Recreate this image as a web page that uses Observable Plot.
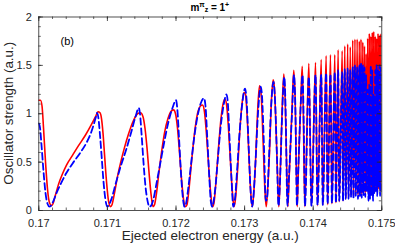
<!DOCTYPE html>
<html><head><meta charset="utf-8">
<script src="https://cdn.jsdelivr.net/npm/d3@7"></script>
<script src="https://cdn.jsdelivr.net/npm/@observablehq/plot@0.6"></script>
<style>
html,body{margin:0;padding:0;background:#fff;}
#chart svg{display:block;}
</style>
</head><body><div id="chart"></div>
<script>
// ---- data ----
const panelLabel = "(b)";
const xTitle = "Ejected electron energy (a.u.)";
const yTitle = "Oscillator strength (a.u.)";
const xMajor = [0.170, 0.171, 0.172, 0.173, 0.174, 0.175];
const xLabels = ["0.17", "0.171", "0.172", "0.173", "0.174", "0.175"];
const yMajor = [0, 0.5, 1, 1.5, 2];
const yLabels = ["0", "0.5", "1", "1.5", "2"];

// red solid curve
const redE = [
0.170000,0.170025,0.170047,0.170069,0.170098,0.170127,0.170156,0.170185,0.170207,
0.170243,0.170287,0.170346,0.170404,0.170491,0.170579,0.170681,0.170768,0.170827,0.170863,0.170892,0.170914,0.170936,0.170958,0.170987,0.171016,0.171045,0.171067,
0.171103,0.171147,0.171191,0.171249,0.171308,0.171380,0.171439,0.171482,0.171519,0.171548,0.171577,0.171606,0.171636,0.171665,0.171687,
0.171716,0.171752,0.171789,0.171832,0.171883,0.171934,0.171964,0.171993,0.172022,0.172051,0.172080,0.172109,0.172138,0.172160,
0.172189,0.172226,0.172270,0.172313,0.172357,0.172386,0.172415,0.172445,0.172474,0.172503,0.172532,0.172554,
0.172583,0.172620,0.172656,0.172692,0.172714,0.172736,0.172765,0.172794,0.172824,0.172845,0.172867,
0.172896,0.172933,0.172962,0.172991,0.173013,0.173035,0.173064,0.173093,0.173112,0.173130,
0.173159,0.173188,0.173217,0.173239,0.173268,0.173297,0.173315,0.173334,
0.173363,0.173392,0.173417,0.173436,0.173465,0.173487,0.173499,0.173516,
0.173545,0.173571,0.173589,0.173615,0.173630,0.173647,
0.173691,0.173717,0.173735,0.173767,0.173781,
0.173822,0.173840,0.173856,0.173878,
0.173936,0.173975,0.174034,0.174063,0.174117,0.174140,0.174189,0.174210,0.174252,0.174273,
0.174315,0.174331,0.174364,0.174380,0.174423,0.174434,0.174461,0.174474,0.174503,0.174515,
0.174541,0.174552,0.174577,0.174587,0.174609,0.174621,0.174641,0.174653,0.174672,0.174682,
0.174697,0.174708,0.174723,0.174733,0.174748,0.174759,0.174771,0.174783,0.174794,0.174806,
0.174818,0.174828,0.174840,0.174850,0.174861,0.174872,0.174882,0.174894,0.174904,0.174914,
0.174924,0.174934,0.174945,0.174955,0.174965,0.174975,0.174985,0.174996];
const redF = [
1.14,1.14,1.08,0.85,0.50,0.22,0.08,0.05,0.07,
0.16,0.27,0.38,0.47,0.57,0.67,0.78,0.89,0.97,1.02,1.01,0.95,0.80,0.58,0.30,0.10,0.04,0.06,
0.18,0.35,0.49,0.65,0.79,0.93,1.00,1.01,0.97,0.85,0.65,0.40,0.17,0.04,0.06,
0.18,0.40,0.60,0.80,0.95,1.03,1.04,1.00,0.85,0.60,0.33,0.12,0.04,0.06,
0.22,0.50,0.80,1.00,1.08,1.09,1.02,0.78,0.48,0.20,0.04,0.08,
0.30,0.65,0.95,1.12,1.15,1.10,0.85,0.50,0.17,0.04,0.12,
0.40,0.85,1.10,1.22,1.20,1.00,0.55,0.15,0.04,0.15,
0.50,1.00,1.29,1.22,0.75,0.20,0.04,0.20,
0.60,1.15,1.35,1.25,0.70,0.20,0.04,0.30,
1.00,1.41,1.20,0.40,0.04,0.30,
1.05,1.45,1.20,0.04,0.35,
1.20,1.49,1.00,0.04,
1.52,0.05,1.53,0.05,1.56,0.06,1.60,0.06,1.61,0.07,
1.61,0.08,1.66,0.09,1.65,0.10,1.70,0.12,1.72,0.14,
1.69,0.16,1.76,0.15,1.77,0.18,1.77,0.16,1.75,0.18,
1.77,0.17,1.74,0.19,1.70,0.18,1.62,0.20,1.78,0.17,
1.83,0.19,1.80,0.18,1.84,0.20,1.85,0.19,1.80,0.21,
1.78,0.20,1.83,0.22,1.81,0.20,1.82,0.22];

// blue dashed curve
const blueE = [
0.170000,0.170017,0.170039,0.170069,0.170098,0.170127,0.170156,0.170178,
0.170214,0.170258,0.170316,0.170404,0.170506,0.170608,0.170695,0.170754,0.170797,0.170834,0.170851,0.170870,0.170892,0.170914,0.170943,0.170972,0.171001,0.171023,
0.171060,0.171118,0.171191,0.171278,0.171351,0.171410,0.171458,0.171475,0.171497,0.171526,0.171555,0.171585,0.171614,0.171638,
0.171672,0.171716,0.171774,0.171832,0.171891,0.171949,0.172000,0.172019,0.172044,0.172073,0.172102,0.172124,0.172146,
0.172182,0.172226,0.172270,0.172313,0.172357,0.172408,0.172430,0.172456,0.172485,0.172510,0.172529,0.172547,
0.172576,0.172612,0.172649,0.172692,0.172736,0.172755,0.172780,0.172809,0.172835,0.172860,
0.172889,0.172926,0.172962,0.173006,0.173028,0.173057,0.173086,0.173111,0.173130,
0.173159,0.173195,0.173236,0.173254,0.173283,0.173309,0.173327,
0.173356,0.173385,0.173421,0.173443,0.173472,0.173494,0.173516,
0.173545,0.173579,0.173596,0.173625,0.173647,
0.173691,0.173720,0.173739,0.173764,0.173781,
0.173822,0.173844,0.173862,0.173880,
0.173936,0.173975,0.174034,0.174063,0.174117,0.174140,0.174189,0.174210,0.174252,0.174273,
0.174315,0.174331,0.174364,0.174380,0.174423,0.174434,0.174461,0.174474,0.174503,0.174515,
0.174541,0.174552,0.174577,0.174587,0.174609,0.174621,0.174641,0.174653,0.174672,0.174682,
0.174697,0.174708,0.174723,0.174733,0.174748,0.174759,0.174771,0.174783,0.174794,0.174806,
0.174818,0.174828,0.174840,0.174850,0.174861,0.174872,0.174882,0.174894,0.174904,0.174914,
0.174924,0.174934,0.174945,0.174955,0.174965,0.174975,0.174985,0.174996];
const blueF = [
0.90,0.86,0.68,0.40,0.18,0.07,0.04,0.05,
0.10,0.18,0.27,0.39,0.50,0.60,0.70,0.79,0.88,0.97,1.01,0.95,0.78,0.58,0.30,0.11,0.04,0.06,
0.12,0.27,0.45,0.64,0.82,0.97,1.06,1.00,0.80,0.50,0.25,0.10,0.04,0.05,
0.12,0.28,0.50,0.72,0.92,1.06,1.14,1.05,0.75,0.38,0.12,0.04,0.07,
0.25,0.52,0.78,0.97,1.10,1.16,1.08,0.75,0.35,0.08,0.04,0.09,
0.25,0.55,0.85,1.08,1.20,1.12,0.75,0.33,0.04,0.12,
0.40,0.80,1.08,1.26,1.15,0.70,0.22,0.04,0.15,
0.50,1.00,1.28,1.18,0.65,0.10,0.12,
0.55,1.05,1.33,1.15,0.55,0.05,0.30,
0.95,1.38,1.10,0.05,0.35,
1.00,1.40,1.10,0.05,0.40,
1.15,1.40,0.90,0.05,
1.38,0.05,1.40,0.06,1.40,0.06,1.42,0.07,1.41,0.08,
1.43,0.08,1.45,0.10,1.43,0.10,1.46,0.12,1.47,0.12,
1.45,0.14,1.48,0.12,1.50,0.15,1.48,0.12,1.50,0.15,
1.52,0.13,1.50,0.16,1.48,0.14,1.40,0.20,1.25,0.10,
1.30,0.12,1.50,0.15,1.45,0.10,1.20,0.18,1.45,0.20,
1.50,0.15,1.45,0.25,1.50,0.15,1.48,0.20];

// ---- build tables ----
const red = redE.map((e, i) => ({E: e, f: redF[i]}));
const blue = blueE.map((e, i) => ({E: e, f: blueF[i]}));
const xMinor = d3.range(0, 26).map(i => +(0.17 + i * 0.0002).toFixed(4));
const yMinor = d3.range(0, 21).map(i => +(i * 0.1).toFixed(1));

const W = 395, H = 247;
const mL = 38.3, mR = 13.7, mT = 16.5, mB = 37;
const fw = W - mL - mR, fh = H - mT - mB;
const axisColor = "#262626";
const font = "'Liberation Sans', Arial, Helvetica, sans-serif";

const chart = Plot.plot({
  width: W, height: H,
  marginLeft: mL, marginRight: mR, marginTop: mT, marginBottom: mB,
  style: {fontFamily: font, color: axisColor, background: "#fff", overflow: "visible"},
  x: {domain: [0.17, 0.175]},
  y: {domain: [0, 2]},
  marks: [
    Plot.line(red, {x: "E", y: "f", stroke: "#ff0000", strokeWidth: 1.6, curve: "monotone-x", clip: true}),
    Plot.line(blue, {x: "E", y: "f", stroke: "#0000ff", strokeWidth: 1.8, strokeDasharray: "6.5,3.5", curve: "monotone-x", clip: true}),
    Plot.frame({stroke: axisColor, strokeWidth: 0.8}),
    // inward ticks, bottom & top
    Plot.tickX(xMajor, {x: d => d, insetTop: fh - 4.5, stroke: axisColor, strokeWidth: 0.8}),
    Plot.tickX(xMajor, {x: d => d, insetBottom: fh - 4.5, stroke: axisColor, strokeWidth: 0.8}),
    Plot.tickX(xMinor, {x: d => d, insetTop: fh - 2.5, stroke: axisColor, strokeWidth: 0.7}),
    Plot.tickX(xMinor, {x: d => d, insetBottom: fh - 2.5, stroke: axisColor, strokeWidth: 0.7}),
    // inward ticks, left & right
    Plot.tickY(yMajor, {y: d => d, insetRight: fw - 4.5, stroke: axisColor, strokeWidth: 0.8}),
    Plot.tickY(yMajor, {y: d => d, insetLeft: fw - 4.5, stroke: axisColor, strokeWidth: 0.8}),
    Plot.tickY(yMinor, {y: d => d, insetRight: fw - 2.5, stroke: axisColor, strokeWidth: 0.7}),
    Plot.tickY(yMinor, {y: d => d, insetLeft: fw - 2.5, stroke: axisColor, strokeWidth: 0.7}),
    Plot.axisX(xMajor, {anchor: "bottom", tickSize: 0, tickPadding: 8.2, label: null, fontSize: 11,
      tickFormat: d => xLabels[xMajor.indexOf(d)]}),
    Plot.axisY(yMajor, {anchor: "left", tickSize: 0, tickPadding: 7, label: null, fontSize: 11,
      tickFormat: d => yLabels[yMajor.indexOf(d)]}),
    Plot.text([xTitle], {frameAnchor: "bottom", dy: 29, fontSize: 13.5, fill: axisColor, text: d => d}),
    Plot.text([panelLabel], {frameAnchor: "top-left", dx: 21.7, dy: 20.4, textAnchor: "start", fontSize: 11, fill: "#000", text: d => d})
  ]
});

const svg = d3.select(chart);

// rotated y-axis title
svg.append("text")
  .attr("transform", `translate(13,${mT + fh / 2}) rotate(-90)`)
  .attr("text-anchor", "middle")
  .attr("font-family", font).attr("font-size", 13.4)
  .attr("fill", axisColor)
  .text(yTitle);

// title with super/subscripts: m^π_z = 1^+
const t = svg.append("text")
  .attr("x", mL + fw / 2).attr("y", 10.5)
  .attr("text-anchor", "middle")
  .attr("font-family", font).attr("font-weight", "bold").attr("font-size", 10)
  .attr("fill", "#000");
t.append("tspan").text("m");
t.append("tspan").attr("dy", -3.5).attr("font-size", 7).text("π");
t.append("tspan").attr("dy", 4.5).attr("font-size", 7).text("z");
t.append("tspan").attr("dy", -1).text(" = 1");
t.append("tspan").attr("dy", -3.5).attr("font-size", 7).text("+");

document.getElementById("chart").appendChild(chart);
</script>
</body></html>
